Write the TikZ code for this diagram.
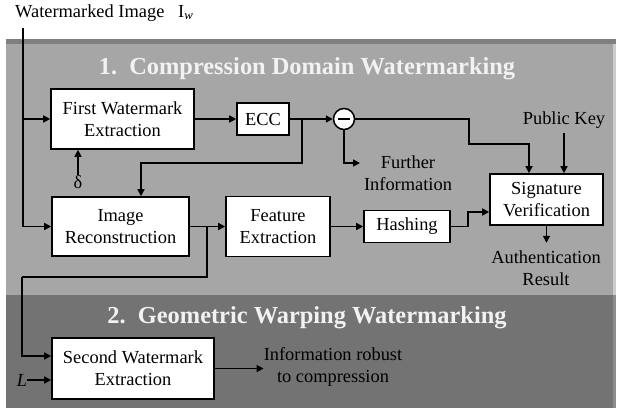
\documentclass[tikz,border=0pt]{standalone}
\usepackage{fontspec}
\setmainfont{Liberation Serif}
\usetikzlibrary{arrows.meta,calc}

\tikzset{
	blk/.style={draw, line width=1.6pt, fill=white, align=center, inner sep=0pt},
	lbl/.style={align=center, inner sep=0pt},
	flow/.style={line width=1.5pt, -{Triangle[length=7pt,width=7pt]}},
	plain/.style={line width=1.5pt},
	ttl/.style={inner sep=0pt, font=\fontsize{24.4}{28}\selectfont\bfseries, text=black!5}
}

\begin{document}
\begin{tikzpicture}[x=1pt, y=-1pt, font=\fontsize{18.4}{22}\selectfont]
	%%%%% START %%%%%
	\useasboundingbox (0,0) rectangle (618,409);
	
	% panels
	\fill[black!35] (6,39) rectangle (616,295);
	\fill[black!50] (6,39) rectangle (616,44);
	\fill[black!20] (613,44) rectangle (616,295);
	\fill[black!55] (6,295) rectangle (616,408);
	\fill[black!45] (613,295) rectangle (616,408);
	
	\node[ttl] (ttlA) at (307,69) {1.\ \ Compression Domain Watermarking};
	\node[ttl] (ttlB) at (307,318) {2.\ \ Geometric Warping Watermarking};
	
	% blocks
	\node[lbl, anchor=west] (src) at (15,13) {Watermarked Image\ \ \ I\textsubscript{\itshape w}};
	\node[blk, minimum width=143pt, minimum height=60pt] (first) at (122.5,119) {First Watermark\\Extraction};
	\node[blk, minimum width=52pt, minimum height=32pt] (ecc) at (263,119) {ECC};
	\node[draw, line width=1.5pt, fill=white, circle, minimum size=21pt, inner sep=0pt] (minus) at (344,119) {};
	\draw[line width=1.5pt] ($(minus)+(-6,0)$) -- ($(minus)+(6,0)$);
	\node[blk, minimum width=137pt, minimum height=59pt] (rec) at (120.5,226.5) {Image\\Reconstruction};
	\node[blk, minimum width=104pt, minimum height=60pt] (feat) at (278,226.5) {Feature\\Extraction};
	\node[blk, minimum width=86pt, minimum height=32pt] (hash) at (407,226.5) {Hashing};
	\node[blk, minimum width=113pt, minimum height=51pt] (sig) at (546.5,199.5) {Signature\\Verification};
	\node[blk, minimum width=162pt, minimum height=61pt] (second) at (133,368.5) {Second Watermark\\Extraction};
	
	% labels
	\node[lbl] (delta) at (78,182) {δ};
	\node[lbl] (further) at (408,173) {Further\\Information};
	\node[lbl] (pk) at (564,120) {Public Key};
	\node[lbl] (result) at (546,268) {Authentication\\Result};
	\node[lbl] (info) at (333,367) {Information robust\\to compression};
	\node[lbl] (L) at (22,380) {\itshape L};
	
	% connectors
	\coordinate (top) at (23,28);
	\coordinate (eccj) at (302,119);
	\coordinate (bend) at (141,163);
	\coordinate (furj) at (360,163);
	\coordinate (pkj) at (469,144);
	\coordinate (hashj) at (468,212);
	\coordinate (recj) at (207,226.5);
	\coordinate (secj) at (22,277);
	
	\draw[flow] (top) |- (first.west);
	\draw[flow] (top) |- (rec.west);
	\draw[flow] (delta.north) -- (delta.north |- first.south);
	\draw[flow] (first) -- (ecc);
	\draw[flow] (ecc) -- (minus);
	\draw[flow] (eccj) |- (bend) -- (bend |- rec.north);
	\draw[flow] (minus.south) |- (furj);
	\draw[flow] (minus.east) -| (pkj) -| ($(sig.north)+(-17.5,0)$);
	\draw[flow] ($(pk.south)+(0,4)$) -- (pk.south |- sig.north);
	\draw[flow] (sig.south) -- ++(0,17);
	\draw[flow] (rec) -- (feat);
	\draw[flow] (feat) -- (hash);
	\draw[flow] (hash.east) -| (hashj) -- (hashj -| sig.west);
	\draw[plain] (recj) |- (secj);
	\draw[flow] (secj) |- ($(second.west)+(0,-12.5)$);
	\draw[flow] (L.east) -- (L.east -| second.west);
	\draw[flow] (second) -- (second.east -| info.west);
	%%%%% END %%%%%
\end{tikzpicture}
\end{document}
